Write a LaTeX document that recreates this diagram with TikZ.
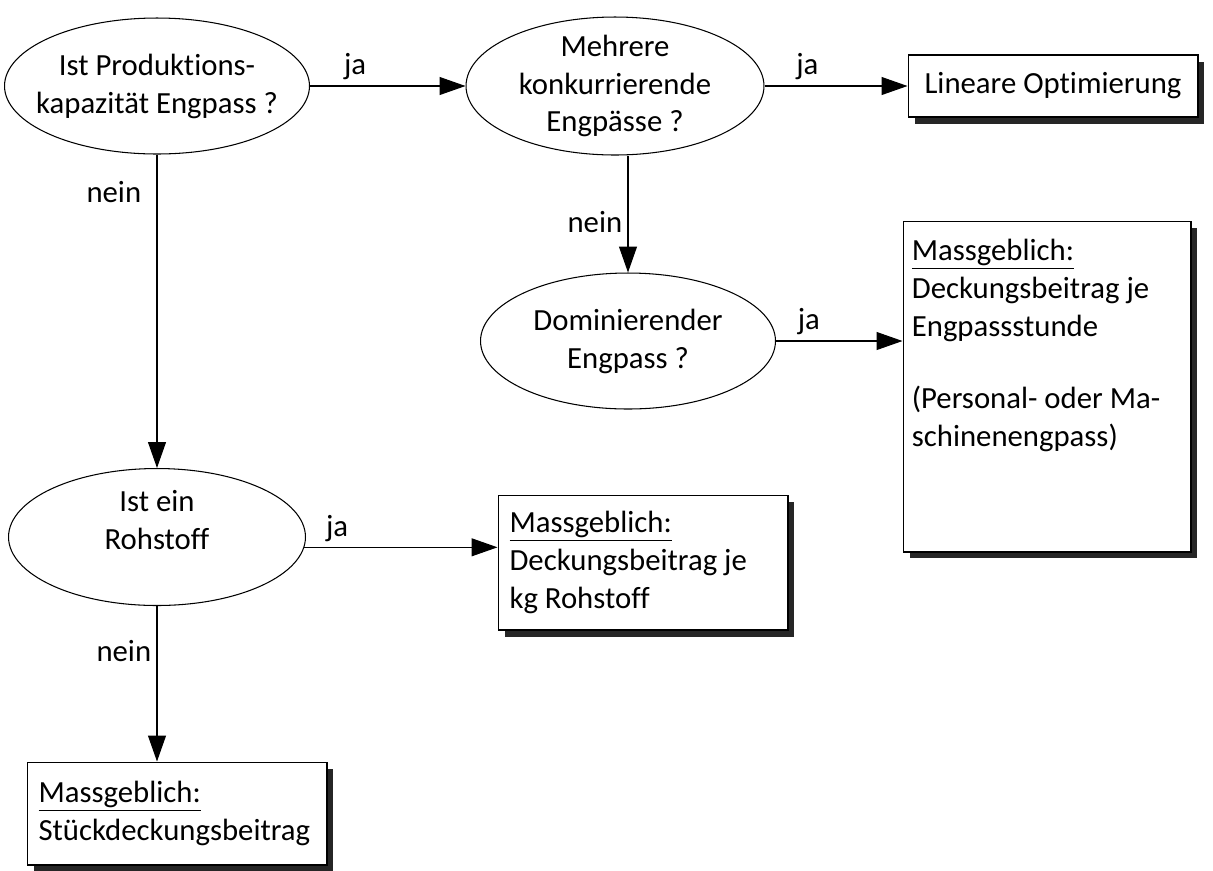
\documentclass[tikz,border=0pt]{standalone}
\usepackage{fontspec}
\setmainfont{Carlito}[Ligatures=NoCommon]
\usetikzlibrary{arrows.meta, calc, positioning, shapes.geometric, shadows}

\begin{document}
\begin{tikzpicture}[
    x=0.02cm, y=-0.02cm,
    >={Triangle[length=5.2mm,width=3.6mm]},
    font=\fontsize{17.5}{21.6}\selectfont,
    question/.style={draw, ellipse, line width=0.6pt, align=center,
                     inner xsep=-8mm, inner ysep=-2mm,
                     minimum width=6cm, minimum height=2.72cm},
    result/.style={draw, line width=0.6pt, fill=white, align=flush left,
                   inner xsep=2.3mm, inner ysep=0pt,
                   drop shadow={shadow xshift=1.3mm, shadow yshift=-1.3mm,
                                fill=black!85, opacity=1}},
    flow/.style={->, line width=0.6pt},
    yes/.style={above, inner sep=3pt},
    no/.style={left, inner sep=3pt},
]
\useasboundingbox (0,0) rectangle (1213,870);

% ---------------- question ellipses -------------------------------------
\node[question, minimum width=6.1cm]                     (kap)  at (157,86)
    {Ist Produktions-\\kapazität Engpass ?};
\node[question, minimum width=5.96cm, minimum height=2.76cm] (mehr) at (615,86)
    {Mehrere\\konkurrierende\\Engpässe ?};
\node[question, minimum width=5.9cm]                     (dom)  at (628,341)
    {Dominierender\\Engpass ?};
% text of this one sits above the middle
\node[question, minimum width=5.94cm, minimum height=2.74cm,
      label={[align=center, yshift=0.34cm]center:{Ist ein\\Rohstoff}}]
    (roh) at (157,537) {};

% ---------------- result boxes ------------------------------------------
\node[result, align=center, minimum width=5.8cm, minimum height=1.24cm]
    (linopt) at (1053,86) {Lineare Optimierung};

% tall box: text sits at the top, so it gets its own node
\node[result, minimum width=5.76cm, minimum height=6.62cm]
    (engbox) at (1047,386.5) {};
\node[anchor=north west, align=flush left, inner sep=0pt,
      below right=0.36cm and 0.18cm of engbox.north west] (engtext)
    {\underline{Massgeblich:}\\
     Deckungsbeitrag je\\
     Engpassstunde\\[0.68cm]
     (Personal- oder Ma-\\
     schinenengpass)};

\node[result, text width=5.34cm, minimum height=2.7cm]
    (rohbox) at (643,562.5)
    {\underline{Massgeblich:}\\Deckungsbeitrag je\\kg Rohstoff};

\node[result, text width=5.54cm, minimum height=2.06cm]
    (stkbox) at (177,813.5)
    {\underline{Massgeblich:}\\Stückdeckungsbeitrag};

% ---------------- connectors --------------------------------------------
\draw[flow] (kap) -- (mehr)
    node[yes, pos=0.29]{ja};
\draw[flow] (mehr) -- (linopt)
    node[yes, pos=0.3]{ja};
\draw[flow] (mehr.south -| dom.north) -- (dom.north)
    node[no, pos=0.57]{nein};
\draw[flow] (dom) -- (dom -| engbox.west)
    node[yes, pos=0.26]{ja};
\draw[flow] (kap) -- (roh)
    node[no, pos=0.12, xshift=-2mm]{nein};
\draw[flow] (roh.-4) -- (roh.-4 -| rohbox.west)
    node[yes, pos=0.17]{ja};
\draw[flow] (roh) -- (roh |- stkbox.north)
    node[no, pos=0.29]{nein};

\end{tikzpicture}
\end{document}
